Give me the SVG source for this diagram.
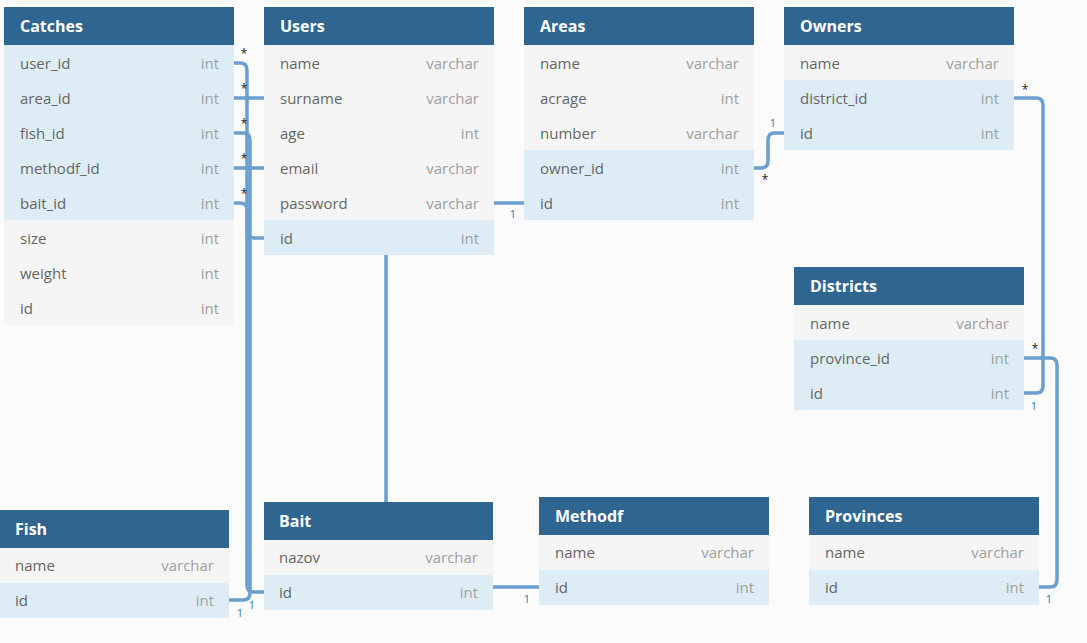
<svg xmlns="http://www.w3.org/2000/svg" width="1087" height="643" viewBox="0 0 1087 643">
<style>
.bg{fill:#fbfbfb}
.hd{fill:#2f6591}
.ht{fill:#ffffff;font-family:"Open Sans","Noto Sans",sans-serif;font-size:16px;font-weight:bold}
.rg{fill:#f5f5f5}
.rb{fill:#deedf5}
.fn{fill:#666666;font-family:"Open Sans","Noto Sans",sans-serif;font-size:15px}
.ft{fill:#a0a0a0;font-family:"Open Sans","Noto Sans",sans-serif;font-size:15px;text-anchor:end}
.ln{fill:none;stroke:#6a9fcf;stroke-width:3.5}
.st{fill:#222;font-family:"Open Sans","Noto Sans",sans-serif;font-size:12px;text-anchor:middle}
.one{fill:#2a78b4;font-family:"Open Sans","Noto Sans",sans-serif;font-size:11px;text-anchor:middle}
</style>
<rect class="bg" x="0" y="0" width="1087" height="643"/>
<g id="connectors">
<path class="ln" d="M234,63 H240 Q247,63 247,70 V231 Q247,238 254,238 H264"/>
<path class="ln" d="M234,98 H379 Q386,98 386,105 V196 Q386,203 393,203 H524"/>
<path class="ln" d="M234,133 H243 Q250,133 250,140 V593 Q250,600 243,600 H229"/>
<path class="ln" d="M234,168 H379 Q386,168 386,175 V580 Q386,587 393,587 H539"/>
<path class="ln" d="M234,203 H240 Q247,203 247,210 V585 Q247,592 254,592 H264"/>
<path class="ln" d="M754,168 H761 Q768,168 768,161 V140 Q768,133 775,133 H784"/>
<path class="ln" d="M1014,98 H1036 Q1043,98 1043,105 V386 Q1043,393 1036,393 H1024"/>
<path class="ln" d="M1024,358 H1050 Q1057,358 1057,365 V580 Q1057,587 1050,587 H1039"/>
<text class="st" x="244" y="58">*</text>
<text class="st" x="244" y="93">*</text>
<text class="st" x="244" y="128">*</text>
<text class="st" x="244" y="163">*</text>
<text class="st" x="244" y="198">*</text>
<text class="one" x="513" y="218">1</text>
<text class="st" x="765" y="184">*</text>
<text class="one" x="773" y="127">1</text>
<text class="st" x="1025" y="94">*</text>
<text class="one" x="1034" y="410">1</text>
<text class="st" x="1035" y="353">*</text>
<text class="one" x="1049" y="603">1</text>
<text class="one" x="527" y="603">1</text>
<text class="one" x="240" y="617">1</text>
<text class="one" x="252" y="609">1</text>
</g>
<g id="catches">
<rect class="hd" x="4" y="7" width="230" height="38"/><text class="ht" x="20" y="32">Catches</text>
<rect class="rb" x="4" y="45" width="230" height="35"/><text class="fn" x="20" y="69">user_id</text><text class="ft" x="219" y="69">int</text>
<rect class="rb" x="4" y="80" width="230" height="35"/><text class="fn" x="20" y="104">area_id</text><text class="ft" x="219" y="104">int</text>
<rect class="rb" x="4" y="115" width="230" height="35"/><text class="fn" x="20" y="139">fish_id</text><text class="ft" x="219" y="139">int</text>
<rect class="rb" x="4" y="150" width="230" height="35"/><text class="fn" x="20" y="174">methodf_id</text><text class="ft" x="219" y="174">int</text>
<rect class="rb" x="4" y="185" width="230" height="35"/><text class="fn" x="20" y="209">bait_id</text><text class="ft" x="219" y="209">int</text>
<rect class="rg" x="4" y="220" width="230" height="35"/><text class="fn" x="20" y="244">size</text><text class="ft" x="219" y="244">int</text>
<rect class="rg" x="4" y="255" width="230" height="35"/><text class="fn" x="20" y="279">weight</text><text class="ft" x="219" y="279">int</text>
<rect class="rg" x="4" y="290" width="230" height="35"/><text class="fn" x="20" y="314">id</text><text class="ft" x="219" y="314">int</text>
</g>
<g id="users">
<rect class="hd" x="264" y="7" width="230" height="38"/><text class="ht" x="280" y="32">Users</text>
<rect class="rg" x="264" y="45" width="230" height="35"/><text class="fn" x="280" y="69">name</text><text class="ft" x="479" y="69">varchar</text>
<rect class="rg" x="264" y="80" width="230" height="35"/><text class="fn" x="280" y="104">surname</text><text class="ft" x="479" y="104">varchar</text>
<rect class="rg" x="264" y="115" width="230" height="35"/><text class="fn" x="280" y="139">age</text><text class="ft" x="479" y="139">int</text>
<rect class="rg" x="264" y="150" width="230" height="35"/><text class="fn" x="280" y="174">email</text><text class="ft" x="479" y="174">varchar</text>
<rect class="rg" x="264" y="185" width="230" height="35"/><text class="fn" x="280" y="209">password</text><text class="ft" x="479" y="209">varchar</text>
<rect class="rb" x="264" y="220" width="230" height="35"/><text class="fn" x="280" y="244">id</text><text class="ft" x="479" y="244">int</text>
</g>
<g id="areas">
<rect class="hd" x="524" y="7" width="230" height="38"/><text class="ht" x="540" y="32">Areas</text>
<rect class="rg" x="524" y="45" width="230" height="35"/><text class="fn" x="540" y="69">name</text><text class="ft" x="739" y="69">varchar</text>
<rect class="rg" x="524" y="80" width="230" height="35"/><text class="fn" x="540" y="104">acrage</text><text class="ft" x="739" y="104">int</text>
<rect class="rg" x="524" y="115" width="230" height="35"/><text class="fn" x="540" y="139">number</text><text class="ft" x="739" y="139">varchar</text>
<rect class="rb" x="524" y="150" width="230" height="35"/><text class="fn" x="540" y="174">owner_id</text><text class="ft" x="739" y="174">int</text>
<rect class="rb" x="524" y="185" width="230" height="35"/><text class="fn" x="540" y="209">id</text><text class="ft" x="739" y="209">int</text>
</g>
<g id="owners">
<rect class="hd" x="784" y="7" width="230" height="38"/><text class="ht" x="800" y="32">Owners</text>
<rect class="rg" x="784" y="45" width="230" height="35"/><text class="fn" x="800" y="69">name</text><text class="ft" x="999" y="69">varchar</text>
<rect class="rb" x="784" y="80" width="230" height="35"/><text class="fn" x="800" y="104">district_id</text><text class="ft" x="999" y="104">int</text>
<rect class="rb" x="784" y="115" width="230" height="35"/><text class="fn" x="800" y="139">id</text><text class="ft" x="999" y="139">int</text>
</g>
<g id="districts">
<rect class="hd" x="794" y="267" width="230" height="38"/><text class="ht" x="810" y="292">Districts</text>
<rect class="rg" x="794" y="305" width="230" height="35"/><text class="fn" x="810" y="329">name</text><text class="ft" x="1009" y="329">varchar</text>
<rect class="rb" x="794" y="340" width="230" height="35"/><text class="fn" x="810" y="364">province_id</text><text class="ft" x="1009" y="364">int</text>
<rect class="rb" x="794" y="375" width="230" height="35"/><text class="fn" x="810" y="399">id</text><text class="ft" x="1009" y="399">int</text>
</g>
<g id="fish">
<rect class="hd" x="0" y="510" width="229" height="38"/><text class="ht" x="15" y="535">Fish</text>
<rect class="rg" x="0" y="548" width="229" height="35"/><text class="fn" x="15" y="571">name</text><text class="ft" x="214" y="571">varchar</text>
<rect class="rb" x="0" y="583" width="229" height="35"/><text class="fn" x="15" y="606">id</text><text class="ft" x="214" y="606">int</text>
</g>
<g id="bait">
<rect class="hd" x="264" y="502" width="229" height="38"/><text class="ht" x="279" y="527">Bait</text>
<rect class="rg" x="264" y="540" width="229" height="35"/><text class="fn" x="279" y="563">nazov</text><text class="ft" x="478" y="563">varchar</text>
<rect class="rb" x="264" y="575" width="229" height="35"/><text class="fn" x="279" y="598">id</text><text class="ft" x="478" y="598">int</text>
</g>
<g id="methodf">
<rect class="hd" x="539" y="497" width="230" height="38"/><text class="ht" x="555" y="522">Methodf</text>
<rect class="rg" x="539" y="535" width="230" height="35"/><text class="fn" x="555" y="558">name</text><text class="ft" x="754" y="558">varchar</text>
<rect class="rb" x="539" y="570" width="230" height="35"/><text class="fn" x="555" y="593">id</text><text class="ft" x="754" y="593">int</text>
</g>
<g id="provinces">
<rect class="hd" x="809" y="497" width="230" height="38"/><text class="ht" x="825" y="522">Provinces</text>
<rect class="rg" x="809" y="535" width="230" height="35"/><text class="fn" x="825" y="558">name</text><text class="ft" x="1024" y="558">varchar</text>
<rect class="rb" x="809" y="570" width="230" height="35"/><text class="fn" x="825" y="593">id</text><text class="ft" x="1024" y="593">int</text>
</g>
</svg>
